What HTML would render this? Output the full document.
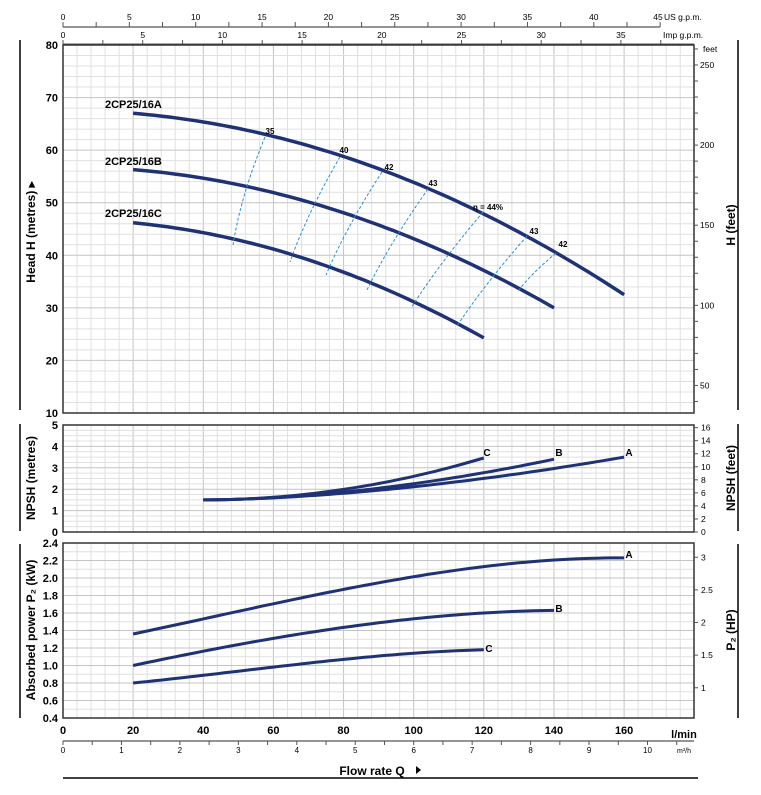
<!DOCTYPE html>
<html><head><meta charset="utf-8"><style>
html,body{margin:0;padding:0;background:#fff;}
svg{display:block;font-family:"Liberation Sans",sans-serif;}
</style></head><body>
<svg id="s" width="761" height="795" xmlns="http://www.w3.org/2000/svg"></svg>
<script>
const S=document.getElementById('s');let h='';
const X0=63,X1=694,K=3.507;
const xq=q=>X0+q*K;
function line(x1,y1,x2,y2,c,w,extra){h+=`<line x1="${x1}" y1="${y1}" x2="${x2}" y2="${y2}" stroke="${c}" stroke-width="${w}" ${extra||''}/>`;}
function txt(x,y,t,sz,anch,wt,extra){h+=`<text x="${x}" y="${y}" font-size="${sz}" text-anchor="${anch||'middle'}" font-weight="${wt||'normal'}" ${extra||''}>${t}</text>`;}
function grid(yt,yb,vmin,vmax,minor,major){
  for(let q=0;q<=180;q+=4){const x=xq(q);if(x>X1)break;line(x,yt,x,yb,q%20==0?'#c4c4c4':'#e0e0e0',1);}
  const sc=(yb-yt)/(vmax-vmin);
  for(let v=vmin;v<=vmax+1e-9;v+=minor){const y=yb-(v-vmin)*sc;const mj=Math.abs(v/major-Math.round(v/major))<1e-6;line(X0,y,X1,y,mj?'#c4c4c4':'#e0e0e0',1);}
  h+=`<rect x="${X0}" y="${yt}" width="${X1-X0}" height="${yb-yt}" fill="none" stroke="#333" stroke-width="1.5"/>`;
  return v=>yb-(v-vmin)*sc;
}
function curve(f,q0,q1,c,w){let p='';for(let q=q0;q<=q1+1e-6;q+=2){p+=(p?'L':'M')+xq(q).toFixed(1)+','+f(q).toFixed(1);}h+=`<path d="${p}" fill="none" stroke="${c}" stroke-width="${w}" stroke-linecap="butt"/>`;}
function lag(pts){return q=>{let s=0;for(let i=0;i<pts.length;i++){let t=pts[i][1];for(let j=0;j<pts.length;j++)if(j!=i)t*=(q-pts[j][0])/(pts[i][0]-pts[j][0]);s+=t;}return s;}}
const NAVY='#1f3275';
line(X0,27,660,27,'#555',1.2);
for(let g=0;g<=45;g+=2.5){const x=X0+g*13.27;line(x,22,x,27,'#555',1);if(g%5==0&&g<45)txt(x,20,g,8.5);}
txt(658,20,'45',8.5,'middle');txt(664,20,'US g.p.m.',8.5,'start');
line(X0,44,X1,44,'#555',1);
for(let g=0;g<=37.5;g+=2.5){const x=X0+g*15.94;if(x>X1)break;line(x,40,x,44,'#555',1);if(g%5==0)txt(x,38,g,8.5);}
txt(663,38,'Imp g.p.m.',8.5,'start');
const yH=grid(45,413,10,80,2,10);
for(let v=10;v<=80;v+=10)txt(58,yH(v)+4,v,11,'end','bold');
for(let f=40;f<=260;f+=10){const y=yH(f*0.3048);if(y<45||y>413)continue;line(X1,y,X1+4,y,'#555',1);if(f%50==0)txt(X1+6,y+3,f,8.5,'start');}
txt(X1+9,52,'feet',8.5,'start');
const HA=q=>yH(67.55-0.001369*q*q),HB=q=>yH(56.85-0.00137*q*q),HC=q=>yH(46.8-0.001564*q*q);
curve(HA,20,160,NAVY,3.5);curve(HB,20,140,NAVY,3.5);curve(HC,20,120,NAVY,3.5);
txt(105,108,'2CP25/16A',11,'start','bold');txt(105,165,'2CP25/16B',11,'start','bold');txt(105,217,'2CP25/16C',11,'start','bold');
const eff=[[265,137,233,245],[340,157,290,262],[382,172,326,275],[428,189,367,290],[483,212,411,308],[527,236,457,326],[556,253,519,290]];
eff.forEach(e=>{const mx=(e[0]+e[2])/2-8,my=(e[1]+e[3])/2+4;h+=`<path d="M${e[0]},${e[1]} Q${mx},${my} ${e[2]},${e[3]}" fill="none" stroke="#2a8fd8" stroke-width="1" stroke-dasharray="3,2"/>`;});
[[270,134,'35'],[344,153,'40'],[389,170,'42'],[433,186,'43'],[488,210,'η = 44%'],[534,234,'43'],[563,247,'42']].forEach(l=>txt(l[0],l[1],l[2],8,'middle','bold'));
const yN=grid(425,532,0,5,0.25,1);
for(let v=0;v<=5;v++)txt(58,yN(v)+4,v,11,'end','bold');
for(let f=0;f<=16;f+=2){const y=yN(f*0.3048);line(X1,y,X1+4,y,'#555',1);txt(X1+7,y+3,f,8.5,'start');}
const nC=q=>yN(1.5+1.96*Math.pow((q-40)/80,2.0)),nB=q=>yN(1.5+1.9*Math.pow((q-40)/100,1.8)),nA=q=>yN(1.5+2.0*Math.pow((q-40)/120,1.7));
curve(nA,40,160,NAVY,3);curve(nB,40,140,NAVY,3);curve(nC,40,120,NAVY,3);
txt(487,456,'C',10,'middle','bold');txt(559,456,'B',10,'middle','bold');txt(629,456,'A',10,'middle','bold');
const yP=grid(543,718,0.4,2.4,0.1,0.2);
for(let v=0.4;v<=2.41;v+=0.2)txt(58,yP(v)+4,v.toFixed(1),11,'end','bold');
[1,1.5,2,2.5,3].forEach(hp=>{const y=yP(hp*0.7457);line(X1,y,X1+4,y,'#555',1);txt(X1+7,y+3,hp,8.5,'start');});
const pA=lag([[20,1.36],[80,1.87],[120,2.13],[160,2.23]]),pB=lag([[20,1.0],[80,1.435],[120,1.6],[140,1.63]]),pC=lag([[20,0.8],[80,1.07],[100,1.14],[120,1.18]]);
curve(q=>yP(pA(q)),20,160,NAVY,3);
curve(q=>yP(pB(q)),20,140,NAVY,3);
curve(q=>yP(pC(q)),20,120,NAVY,3);
txt(629,558,'A',10,'middle','bold');txt(559,612,'B',10,'middle','bold');txt(489,652,'C',10,'middle','bold');
for(let q=0;q<=160;q+=20)txt(xq(q),734,q,11,'middle','bold');
txt(684,738,'l/min',11,'middle','bold');
line(X0,741,X1,741,'#555',1.2);
for(let m=0;m<=10.5;m+=0.5){const x=X0+m*58.45;if(x>X1+1)break;line(x,741,x,745,'#555',1);if(m%1==0)txt(x,753,m,8,'middle');}
txt(684,753,'m³/h',7,'middle');
txt(372,775,'Flow rate  Q',12,'middle','bold');
h+=`<path d="M416,766 L421,770 L416,774Z" fill="#000"/>`;
line(X0,778,698,778,'#000',1.5);
line(20,40,20,410,'#000',1.5);line(20,424,20,531,'#000',1.5);line(20,544,20,718,'#000',1.5);
line(738,40,738,410,'#000',1.5);line(738,424,738,531,'#000',1.5);line(738,544,738,718,'#000',1.5);
txt(0,0,'Head H  (metres)  ▸',12,'middle','bold','transform="translate(35,232) rotate(-90)"');
txt(0,0,'NPSH  (metres)',12,'middle','bold','transform="translate(35,478) rotate(-90)"');
txt(0,0,'Absorbed power  P₂  (kW)',12,'middle','bold','transform="translate(35,630) rotate(-90)"');
txt(0,0,'H  (feet)',12,'middle','bold','transform="translate(735,225) rotate(-90)"');
txt(0,0,'NPSH  (feet)',12,'middle','bold','transform="translate(735,478) rotate(-90)"');
txt(0,0,'P₂  (HP)',12,'middle','bold','transform="translate(735,630) rotate(-90)"');
S.innerHTML=h;
</script>
</body></html>
